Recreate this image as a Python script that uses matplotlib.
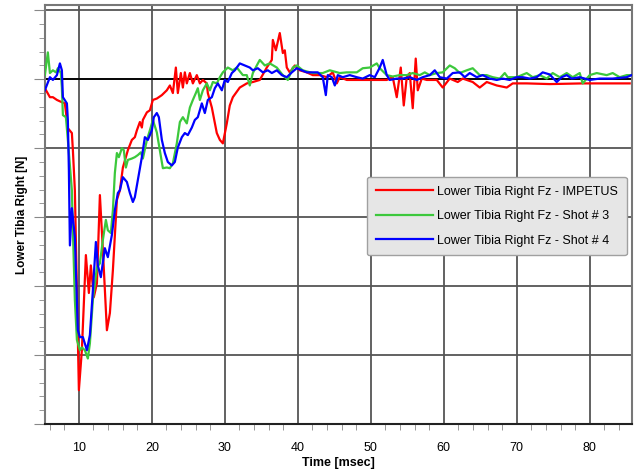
import matplotlib
matplotlib.use("Agg")
import matplotlib.pyplot as plt
from matplotlib.ticker import MultipleLocator, NullFormatter

plt.rcParams['font.family'] = ['Liberation Sans', 'DejaVu Sans']

# time [msec] and force [N]
t_imp = [5.34, 6.03, 6.44, 6.99, 7.40, 8.08, 8.49, 9.04, 9.18, 9.45, 9.73, 10.0, 10.41, 10.96,
         11.37, 11.64, 12.05, 12.47, 12.88, 13.29, 13.84, 14.25, 14.66, 15.21, 15.62, 16.03,
         16.71, 17.26, 17.67, 17.95, 18.36, 18.63, 18.77, 19.32, 19.73, 20.14, 20.68, 21.37,
         22.05, 22.47, 22.88, 23.29, 23.56, 23.97, 24.25, 24.52, 24.79, 25.21, 25.62, 26.16,
         26.58, 26.99, 27.53, 27.67, 28.22, 28.90, 29.32, 29.73, 30.27, 30.68, 31.10, 32.05,
         33.01, 33.84, 34.79, 35.75, 36.44, 36.58, 36.99, 37.53, 37.95, 38.22, 38.49, 38.90,
         39.59, 40.27, 41.23, 42.05, 43.01, 43.97, 44.79, 45.34, 45.75, 46.71, 48.49, 50.27,
         52.19, 53.01, 53.56, 54.11, 54.52, 54.93, 55.34, 55.75, 56.16, 56.44, 56.99, 57.67,
         59.04, 59.86, 60.82, 61.92, 62.60, 63.97, 64.93, 65.89, 67.26, 68.63, 69.45, 71.37,
         74.52, 79.04, 81.37, 85.48]
f_imp = [-130, -260, -260, -300, -320, -350, -710, -780, -1030, -1610, -3060, -4510, -3930, -2550,
         -3100, -2700, -3160, -2960, -1680, -2480, -3640, -3390, -2770, -1750, -1610, -1280,
         -1030, -880, -840, -740, -620, -700, -590, -480, -450, -300, -280, -230,
         -160, -90, -200, 170, -200, 90, -120, 100, -60, 90, -60, 60,
         -60, -10, -60, -200, -410, -780, -880, -930, -640, -380, -260, -120,
         -60, -40, -10, 170, 280, 570, 420, 670, 380, 420, 170, 100,
         200, 130, 100, 60, 60, 30, 100, -60, 30, -10, -10, -10,
         -10, 30, -260, 170, -380, 30, 90, -420, 300, -160, 10, -10,
         -10, -120, 10, -40, 10, -40, -120, -40, -90, -120, -60, -60,
         -70, -60, -60, -60]

t_s3 = [5.34, 5.75, 6.03, 6.44, 6.85, 7.12, 7.53, 7.67, 7.81, 8.22, 8.49, 9.04, 9.18, 9.45,
        9.73, 10.14, 10.41, 10.82, 11.23, 11.51, 11.92, 12.47, 12.88, 13.29, 13.70, 13.97,
        14.38, 14.66, 14.93, 15.21, 15.48, 15.89, 16.16, 16.44, 16.71, 17.26, 17.67, 18.08,
        18.49, 18.77, 19.32, 19.73, 20.14, 20.68, 21.10, 21.51, 22.05, 22.47, 22.88, 23.42,
        23.84, 24.25, 24.79, 25.21, 25.62, 26.03, 26.30, 26.58, 26.99, 27.53, 27.95, 28.36,
        28.90, 29.32, 29.73, 30.41, 31.10, 31.64, 32.47, 33.01, 33.42, 33.84, 34.38, 34.79,
        35.48, 36.16, 37.12, 37.95, 38.63, 39.32, 39.86, 40.68, 42.05, 43.42, 44.38, 45.75,
        46.71, 48.08, 48.90, 49.86, 50.82, 51.23, 52.19, 53.01, 53.97, 54.93, 55.75, 56.71,
        57.40, 58.08, 59.04, 59.86, 60.82, 61.51, 62.19, 63.15, 63.97, 64.93, 65.89, 66.71,
        67.67, 68.36, 68.77, 70.00, 71.37, 72.19, 73.15, 74.11, 74.93, 75.89, 76.85, 77.67,
        78.63, 79.04, 80.00, 80.96, 82.33, 83.15, 84.11, 85.07, 85.89]
f_s3 = [60, 390, 90, 130, 100, 160, 90, -120, -520, -550, -880, -1610, -2190, -3200,
        -3780, -3930, -3890, -3930, -4050, -3830, -3200, -2730, -2670, -2330, -2040, -2190,
        -2230, -1900, -1360, -1070, -1130, -1000, -1030, -1280, -1170, -1150, -1130, -1100,
        -1060, -1150, -880, -740, -590, -770, -1030, -1290, -1280, -1290, -1220, -930,
        -620, -550, -640, -410, -300, -200, -130, -300, -160, -60, -160, -40,
        -60, 30, 100, 170, 130, 170, 60, 60, -90, 90, 200, 280,
        200, 230, 170, 60, -10, 170, 200, 130, 90, 90, 130, 90,
        100, 100, 160, 170, 230, 160, 60, 40, 60, 60, 90, 60,
        100, 60, 90, 100, 200, 160, 90, 130, 160, 60, 60, 30,
        10, 90, 30, 30, 90, 30, 60, 10, 90, 30, 90, 30,
        90, -60, 60, 90, 60, 90, 30, 60, 60]

t_s4 = [5.34, 6.03, 6.44, 6.99, 7.40, 7.67, 7.81, 8.36, 8.49, 8.63, 8.77, 9.04, 9.45, 9.86,
        10.14, 10.55, 11.10, 11.51, 11.92, 12.33, 12.60, 13.01, 13.56, 13.97, 14.52, 14.93,
        15.34, 15.62, 16.03, 16.58, 16.99, 17.40, 17.67, 18.08, 18.63, 19.04, 19.45, 20.00,
        20.27, 20.68, 20.96, 21.37, 21.78, 22.19, 22.74, 23.15, 23.56, 24.11, 24.52, 24.93,
        25.48, 25.89, 26.30, 26.85, 27.26, 27.67, 28.22, 28.63, 29.04, 29.59, 30.00, 30.41,
        30.96, 31.37, 32.05, 32.74, 33.42, 33.84, 34.52, 35.21, 35.89, 36.44, 37.12, 37.81,
        38.49, 39.18, 39.86, 40.55, 41.23, 42.74, 43.42, 43.84, 44.11, 44.66, 45.07, 45.48,
        46.16, 47.12, 48.08, 48.90, 49.86, 50.55, 51.23, 51.64, 52.19, 52.60, 53.56, 54.38,
        55.34, 56.30, 57.12, 58.08, 58.77, 59.45, 60.41, 61.23, 62.19, 62.88, 63.56, 64.52,
        65.34, 66.30, 67.26, 68.08, 69.04, 70.00, 70.82, 71.78, 72.74, 73.56, 74.52, 75.48,
        76.16, 76.85, 77.53, 78.63, 80.00, 81.37, 83.15, 85.07, 85.75]
f_s4 = [-160, 30, -10, 60, 230, 130, -260, -350, -590, -1320, -2410, -1870, -2290, -3640,
        -3740, -3740, -3930, -3710, -3060, -2360, -2700, -2870, -2450, -2580, -2260, -1900,
        -1650, -1610, -1420, -1490, -1650, -1780, -1710, -1460, -1130, -840, -880, -740,
        -550, -490, -550, -880, -1070, -1200, -1250, -1200, -990, -840, -780, -810,
        -700, -590, -550, -350, -490, -300, -260, -130, -60, -160, -10, -40,
        90, 130, 230, 200, 170, 130, 160, 100, 130, 90, 130, 60,
        30, 100, 160, 130, 100, 100, 30, -230, 60, 30, -90, 60,
        30, 60, 30, 10, 60, 30, 170, 280, 60, -10, 10, 10,
        30, -10, 30, 60, 130, 30, 10, 90, 100, 30, 90, 30,
        60, 10, -10, 10, -10, 30, 30, 10, 30, 100, 70, -40,
        30, 60, 10, 30, -10, 10, 10, 30, 60]

labels = ['Lower Tibia Right Fz - IMPETUS',
          'Lower Tibia Right Fz - Shot # 3',
          'Lower Tibia Right Fz - Shot # 4']
colors = ['#ff0000', '#3cc83c', '#0000ff']

fig = plt.figure(figsize=(6.41, 4.72), dpi=100)
ax = fig.add_axes([0.070, 0.1017, 0.916, 0.8877])

ax.plot(t_imp, f_imp, color=colors[0], lw=1.6, label=labels[0], zorder=3)
ax.plot(t_s3, f_s3, color=colors[1], lw=1.6, label=labels[1], zorder=3)
ax.plot(t_s4, f_s4, color=colors[2], lw=1.6, label=labels[2], zorder=3)

ax.set_xlim(5.34, 85.8)
ax.set_ylim(-5000, 1077)

ax.xaxis.set_major_locator(MultipleLocator(10))
ax.xaxis.set_minor_locator(MultipleLocator(2))
ax.yaxis.set_major_locator(MultipleLocator(1000))
ax.yaxis.set_minor_locator(MultipleLocator(200))
ax.yaxis.set_major_formatter(NullFormatter())

ax.grid(True, which='major', color='#555555', lw=1.3, zorder=1)
ax.axhline(0, color='black', lw=1.3, zorder=2)

for s in ax.spines.values():
    s.set_color('#777777')
    s.set_linewidth(1.5)
ax.spines['bottom'].set_color('#222222')

ax.tick_params(axis='x', which='major', length=0, labelsize=9, pad=13)
ax.tick_params(axis='x', which='minor', length=4, color='#888888')
ax.tick_params(axis='y', which='major', length=8, color='#888888')
ax.tick_params(axis='y', which='minor', length=4, color='#888888')

ax.set_xlabel('Time [msec]', fontsize=9, fontweight='bold', labelpad=2)
ax.set_ylabel('Lower Tibia Right [N]', fontsize=8.5, fontweight='bold', labelpad=1)

leg = ax.legend(loc='upper left', bbox_to_anchor=(0.5486, 0.59), borderaxespad=0,
                fontsize=9, handlelength=4.6, handletextpad=0.3,
                facecolor='#e6e6e6', edgecolor='#a0a0a0',
                framealpha=1, fancybox=True, borderpad=0.7, labelspacing=1.0)
leg.get_frame().set_linewidth(1.0)

fig.savefig('out.png', dpi=100)
